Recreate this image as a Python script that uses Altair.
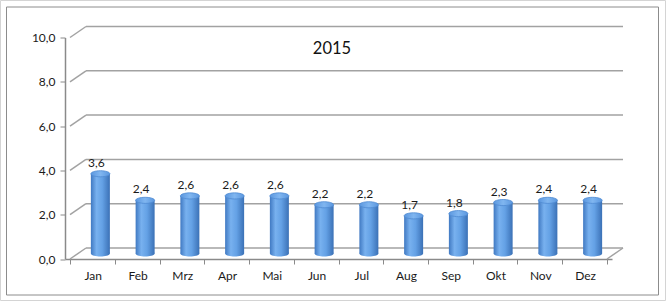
import altair as alt
import pandas as pd

months = ["Jan", "Feb", "Mrz", "Apr", "Mai", "Jun", "Jul", "Aug", "Sep", "Okt", "Nov", "Dez"]
values = [3.6, 2.4, 2.6, 2.6, 2.6, 2.2, 2.2, 1.7, 1.8, 2.3, 2.4, 2.4]
y_ticks = [0, 2, 4, 6, 8, 10]
chart_title = "2015"

FONT = "Lato"
DX, DY = 16, -11          # depth of the 3D box (pixels)
W, H = 547, 221.5
GRID = "#A2A2A2"
AXIS = "#8A8A8A"

df = pd.DataFrame({
    "idx": [i + 0.5 for i in range(len(months))],
    "value": values,
    "base": [0] * len(values),
    "label": [f"{v:.1f}".replace(".", ",") for v in values],
})
grid_df = pd.DataFrame({"v": y_ticks, "x0": [0] * len(y_ticks), "x1": [len(months)] * len(y_ticks)})
floor_df = pd.DataFrame({"v": [0], "x0": [len(months)]})
one = pd.DataFrame({"a": [0]})

xscale = alt.Scale(domain=[0, len(months)], nice=False, zero=False)
yscale = alt.Scale(domain=[0, 10], nice=False)

month_arr = "[" + ",".join("'" + m + "'" for m in months) + ",'']"
x_axis = alt.Axis(values=list(range(len(months) + 1)), labelExpr=f"{month_arr}[datum.value]",
                  labelOffset=W / len(months) / 2, tickSize=5, tickColor=AXIS, domainColor=AXIS,
                  domainWidth=1.5, labelPadding=6, labelFontSize=12, labelFont=FONT,
                  labelColor="#1a1a1a", grid=False, title=None, labelFlush=False, labelOverlap=False)
y_axis = alt.Axis(values=y_ticks, labelExpr="replace(format(datum.value, '.1f'), '.', ',')",
                  tickSize=5, tickColor=AXIS, domainColor=AXIS, domainWidth=1.5, labelPadding=5,
                  labelFontSize=12, labelFont=FONT, labelColor="#1a1a1a", grid=False, title=None)

frame_outer = alt.Chart(one).mark_rect(fillOpacity=0, stroke="#D4D4D4", strokeWidth=1).encode(
    x=alt.value(-64.5), x2=alt.value(600.5), y=alt.value(-37), y2=alt.value(263))
frame_inner = alt.Chart(one).mark_rect(fillOpacity=0, stroke="#8C8C8C", strokeWidth=1).encode(
    x=alt.value(-58.5), x2=alt.value(593.5), y=alt.value(-30.5), y2=alt.value(257.5))

back_grid = alt.Chart(grid_df).mark_rule(color=GRID, strokeWidth=1.5, xOffset=DX, x2Offset=DX, yOffset=DY).encode(
    x=alt.X("x0:Q", scale=xscale, axis=x_axis), x2="x1", y=alt.Y("v:Q", scale=yscale, axis=y_axis))
left_diag = alt.Chart(grid_df).mark_rule(color=GRID, strokeWidth=1.5, x2Offset=DX, y2Offset=DY).encode(
    x=alt.X("x0:Q", scale=xscale), x2="x0", y=alt.Y("v:Q", scale=yscale), y2="v")
floor_diag = alt.Chart(floor_df).mark_rule(color=GRID, strokeWidth=1.5, x2Offset=DX, y2Offset=DY).encode(
    x=alt.X("x0:Q", scale=xscale), x2="x0", y=alt.Y("v:Q", scale=yscale), y2="v")

side_grad = alt.Gradient(gradient="linear", x1=0, x2=1, y1=0, y2=0, stops=[
    alt.GradientStop(offset=0, color="#4079C2"),
    alt.GradientStop(offset=0.3, color="#78B1EF"),
    alt.GradientStop(offset=0.6, color="#64A1E5"),
    alt.GradientStop(offset=1, color="#3B71B6"),
])
top_grad = alt.Gradient(gradient="linear", x1=0, x2=1, y1=0, y2=0, stops=[
    alt.GradientStop(offset=0, color="#5B97DF"),
    alt.GradientStop(offset=0.5, color="#80B6F0"),
    alt.GradientStop(offset=1, color="#5B97DF"),
])
ELLIPSE = "M -1 0 A 1 0.32 0 1 0 1 0 A 1 0.32 0 1 0 -1 0 Z"
BAR_W = 19
BX, BY = DX / 2, DY / 2

bottoms = alt.Chart(df).mark_point(shape=ELLIPSE, size=BAR_W ** 2, filled=True, fill=side_grad,
                                   strokeWidth=0, opacity=1, xOffset=BX, yOffset=BY).encode(
    x=alt.X("idx:Q", scale=xscale), y=alt.Y("base:Q", scale=yscale))
bars = alt.Chart(df).mark_bar(size=BAR_W, fill=side_grad, orient="vertical",
                              xOffset=BX, yOffset=BY, y2Offset=BY).encode(
    x=alt.X("idx:Q", scale=xscale), y=alt.Y("value:Q", scale=yscale), y2="base")
tops = alt.Chart(df).mark_point(shape=ELLIPSE, size=BAR_W ** 2, filled=True, fill=top_grad,
                                stroke="#4F8AD2", strokeWidth=0.8, opacity=1, xOffset=BX, yOffset=BY).encode(
    x=alt.X("idx:Q", scale=xscale), y=alt.Y("value:Q", scale=yscale))
labels = alt.Chart(df).mark_text(font=FONT, fontSize=12, color="#1a1a1a", baseline="middle",
                                 xOffset=4, yOffset=BY - 11).encode(
    x=alt.X("idx:Q", scale=xscale), y=alt.Y("value:Q", scale=yscale), text="label")
title = alt.Chart(one).mark_text(font=FONT, fontSize=16.5, color="#111111", baseline="middle",
                                 align="center", text=chart_title).encode(
    x=alt.value(267), y=alt.value(11))

chart = alt.layer(frame_outer, frame_inner, back_grid, left_diag, floor_diag,
                  bottoms, bars, tops, labels, title).properties(
    width=W, height=H,
    autosize=alt.AutoSizeParams(type="none"),
    padding={"left": 65, "top": 37.5, "right": 54, "bottom": 42},
    background="white",
).configure_view(stroke=None)

chart.save("out.html", embed_options={"renderer": "svg", "actions": False})
